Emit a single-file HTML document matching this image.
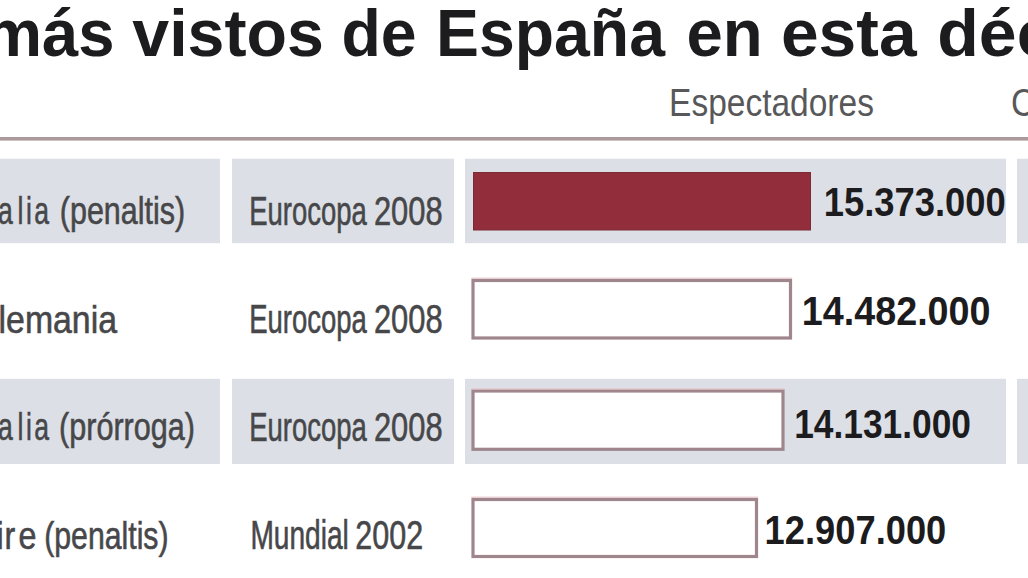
<!DOCTYPE html>
<html><head><meta charset="utf-8">
<style>
html,body{margin:0;padding:0;background:#fff;width:1028px;height:578px;overflow:hidden}
svg{display:block}
text{font-family:"Liberation Sans",sans-serif}
</style></head>
<body>
<svg width="1028" height="578" viewBox="0 0 1028 578">
<rect x="0" y="0" width="1028" height="578" fill="#ffffff"/>
<!-- title -->
<g font-size="67" font-weight="bold" fill="#1c1c1e">
<text transform="translate(-16.1 55.8) scale(0.975 1)">más</text>
<text transform="translate(132.3 55.8) scale(0.990 1)">vistos</text>
<text transform="translate(341.4 55.8) scale(0.962 1)">de</text>
<text transform="translate(436 55.8) scale(0.961 1)">España</text>
<text transform="translate(686.5 55.8) scale(0.976 1)">en</text>
<text transform="translate(780.9 55.8) scale(1.012 1)">esta</text>
<text transform="translate(937.3 55.8) scale(1.016 1)">década</text>
</g>
<!-- header -->
<g font-size="39" fill="#58585a">
<text transform="translate(669.1 116) scale(0.859 1)">Espectadores</text>
<text transform="translate(1011.1 116) scale(0.859 1)">Cuota</text>
</g>
<rect x="0" y="137" width="1028" height="3.6" fill="#ab999c"/>
<!-- gray rows -->
<g fill="#dce0e6">
<rect x="0" y="158.7" width="220" height="84.5"/>
<rect x="232" y="158.7" width="222" height="84.5"/>
<rect x="465" y="158.7" width="541" height="84.5"/>
<rect x="1017" y="158.7" width="11" height="84.5"/>
<rect x="0" y="378.8" width="220" height="85.2"/>
<rect x="232" y="378.8" width="222" height="85.2"/>
<rect x="465" y="378.8" width="541" height="85.2"/>
<rect x="1017" y="378.8" width="11" height="85.2"/>
</g>
<!-- bars -->
<rect x="473.5" y="172.5" width="337" height="57.5" fill="#922e3c" stroke="#7c2a34" stroke-width="1"/>
<g fill="#ffffff" stroke="#9f868c" stroke-width="3.2">
<rect x="473" y="280.5" width="317.5" height="57.5"/>
<rect x="473" y="391" width="310" height="58.3"/>
<rect x="473" y="499.5" width="283.5" height="57"/>
</g>
<g fill="#e7c9ce">
<rect x="471.4" y="277.6" width="320.7" height="1.3"/>
<rect x="471.4" y="388.1" width="313.2" height="1.3"/>
<rect x="471.4" y="496.6" width="286.7" height="1.3"/>
</g>
<!-- names -->
<g font-size="38" fill="#47474a" stroke="#47474a" stroke-width="0.6">
<text x="-35.71 -13.36 -2.80 24.91 37.14 49.00" transform="translate(0 224) scale(0.70 1)">Italia</text>
<text transform="translate(59.8 224) scale(0.802 1)">(penaltis)</text>
<text text-anchor="end" transform="translate(117 333) scale(0.89 1)">Alemania</text>
<text x="-35.71 -13.36 -2.80 24.91 37.14 49.00" transform="translate(0 439.5) scale(0.70 1)">Italia</text>
<text transform="translate(59 439.5) scale(0.805 1)">(prórroga)</text>
<text x="-29.41 -4.12 5.29 21.65" transform="translate(0 549) scale(0.85 1)">Eire</text>
<text transform="translate(44.2 549) scale(0.796 1)">(penaltis)</text>
</g>
<g font-size="40" fill="#47474a" stroke="#47474a" stroke-width="0.6">
<text transform="translate(249.15 225) scale(0.687 1)">Eurocopa</text>
<text transform="translate(373.95 225) scale(0.772 1)">2008</text>
<text transform="translate(249.15 333) scale(0.687 1)">Eurocopa</text>
<text transform="translate(373.95 333) scale(0.772 1)">2008</text>
<text transform="translate(249.15 440.5) scale(0.687 1)">Eurocopa</text>
<text transform="translate(373.95 440.5) scale(0.772 1)">2008</text>
<text transform="translate(250.4 548.8) scale(0.703 1)">Mundial</text>
<text transform="translate(355.27 548.8) scale(0.763 1)">2002</text>
</g>
<!-- numbers -->
<g font-size="40" font-weight="bold" fill="#1c1c1e">
<text transform="translate(823.7 216) scale(0.910 1)">15.373.000</text>
<text transform="translate(801.7 324.5) scale(0.944 1)">14.482.000</text>
<text transform="translate(794.2 438) scale(0.883 1)">14.131.000</text>
<text transform="translate(764.6 543.5) scale(0.908 1)">12.907.000</text>
</g>
</svg>
</body></html>
